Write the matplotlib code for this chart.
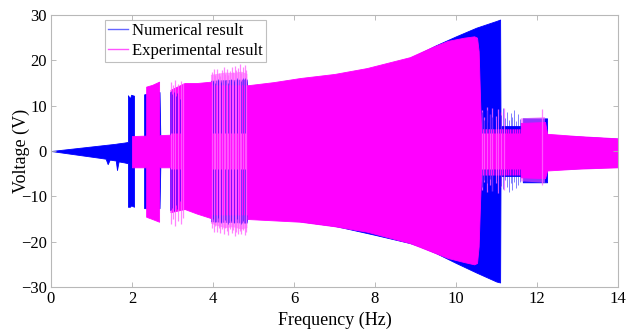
import numpy as np
import matplotlib
matplotlib.use('Agg')
import matplotlib.pyplot as plt
from matplotlib.lines import Line2D

# --- Envelope of the numerical response ---
num_f = [0, 0.4, 0.8, 1.2, 1.35, 1.4, 1.45, 1.6, 1.63, 1.67, 1.8, 1.9,
         1.9, 1.95, 1.98, 2.05,
         2.05, 2.3,
         2.3, 2.5, 2.68,
         2.7, 2.94,
         2.94, 3.5, 3.95,
         3.95, 4.83,
         4.85, 6.0, 7.0, 8.0, 8.86, 9.1, 9.5, 10.0, 10.5, 11.0, 11.09,
         11.1, 11.65,
         11.65, 12.25,
         12.25, 13.0, 14.0]
num_up = [0, 0.4, 0.8, 1.2, 1.35, 1.4, 1.45, 1.6, 1.65, 1.7, 1.85, 2.0,
          12.3, 11.6, 12.4, 12.2,
          3.0, 3.0,
          12.5, 12.8, 13.0,
          3.2, 3.2,
          13.0, 13.0, 13.0,
          15.5, 15.8,
          14.0, 15.5, 16.5, 18.0, 20.5, 21.5, 23.3, 25.3, 27.2, 28.7, 29.0,
          5.5, 5.5,
          7.2, 7.2,
          3.5, 3.2, 2.7]
num_lo = [0, -0.5, -1.0, -1.5, -1.7, -2.9, -1.9, -2.1, -4.2, -2.3, -2.5, -2.7,
          -12.3, -12.3, -12.0, -12.3,
          -3.0, -3.0,
          -12.6, -12.6, -12.6,
          -3.3, -3.3,
          -13.0, -12.5, -14.0,
          -15.5, -15.8,
          -14.5, -15.3, -16.5, -18.5, -20.3, -21.0, -22.5, -24.7, -26.8, -28.8, -29.0,
          -5.5, -5.5,
          -6.9, -6.9,
          -4.0, -3.8, -3.4]

# --- Envelope of the experimental response ---
exp_f = [2.0, 2.35,
         2.35, 2.5, 2.67,
         2.67, 2.95,
         2.95, 3.3, 3.6, 3.95,
         3.95, 4.85,
         4.85, 5.5, 6.15, 7.0, 7.8, 8.86, 9.43, 9.8, 10.2, 10.45, 10.52, 10.56, 10.6,
         10.62, 11.6,
         11.6, 12.2,
         12.25, 13.0, 14.0]
exp_up = [3.3, 3.4,
          14.2, 14.6, 15.3,
          3.5, 3.6,
          13.5, 15.0, 15.0, 15.3,
          14.5, 14.5,
          14.5, 15.2, 16.1, 17.0, 18.3, 20.7, 23.0, 24.3, 25.0, 25.3, 25.0, 22.0, 10.0,
          4.8, 4.8,
          6.2, 6.4,
          3.8, 3.3, 2.8]
exp_lo = [-3.6, -3.6,
          -14.5, -15.0, -15.6,
          -3.6, -3.6,
          -13.5, -12.8, -13.8, -14.8,
          -14.0, -14.0,
          -15.0, -15.3, -15.6, -16.6, -17.8, -20.3, -22.3, -23.6, -24.5, -25.0, -24.7, -21.0, -10.0,
          -5.2, -5.2,
          -5.8, -6.0,
          -4.3, -3.9, -3.6]

# --- Pale, partly overlapping part of the experimental trace ---
halo_f = [3.95, 4.1, 4.3, 4.5, 4.7, 4.85, np.nan, 11.6, 12.2]
halo_up = [16.8, 17.0, 17.3, 17.2, 17.5, 17.0, np.nan, 7.2, 7.5]
halo_lo = [-16.0, -16.5, -17.0, -16.8, -17.3, -17.0, np.nan, -6.7, -7.0]

# --- Individual spikes poking out of the envelopes ---
num_spk_f = [2.96, 3.0, 3.04, 3.08, 3.12, 3.18,
             4.0, 4.05, 4.12, 4.2, 4.3, 4.38, 4.45, 4.52, 4.6, 4.68, 4.75, 4.8,
             10.64, 10.68, 10.72, 10.76, 10.8, 10.84, 10.88, 10.93, 10.97, 11.01, 11.06,
             11.12, 11.17, 11.21, 11.26, 11.3, 11.35, 11.39, 11.44, 11.48, 11.53, 11.58]
num_spk_top = [13.2, 12.5, 13.0, 12.2, 12.8, 11.5,
               15.5, 15.0, 15.8, 15.2, 15.6, 15.0, 15.9, 15.4, 16.0, 15.5, 16.1, 16.0,
               8.5, 6.8, 7.0, 9.0, 6.5, 8.8, 7.5, 9.2, 6.8, 8.4, 7.1,
               8.0, 9.5, 7.2, 8.6, 6.9, 8.3, 7.5, 9.0, 6.6, 8.1, 7.0]
num_spk_bot = [-13.0, -12.6, -13.2, -12.0, -12.8, -11.0,
               -15.0, -15.6, -14.8, -15.8, -15.2, -16.0, -15.4, -15.9, -15.1, -16.0, -15.5, -15.8,
               -8.0, -6.5, -9.3, -7.0, -8.5, -6.2, -9.0, -7.5, -8.8, -6.6, -9.2,
               -7.8, -8.4, -6.5, -7.9, -9.0, -7.1, -8.6, -6.8, -8.2, -7.4, -6.9]

exp_spk_f = [2.97, 3.02, 3.07, 3.13, 3.2, 3.27,
             3.98, 4.02, 4.06, 4.1, 4.14, 4.18, 4.22, 4.26, 4.3, 4.34, 4.38, 4.42,
             4.46, 4.5, 4.54, 4.58, 4.62, 4.66, 4.7, 4.74, 4.78, 4.82,
             10.64, 10.7, 10.76, 10.83, 10.9, 10.98, 11.05, 11.12, 11.18, 12.12]
exp_spk_top = [15.3, 14.5, 15.6, 14.8, 15.5, 15.0,
               17.5, 18.2, 16.8, 18.0, 17.2, 16.5, 17.8, 18.6, 17.0, 18.2, 16.8, 17.6,
               18.5, 17.4, 18.8, 17.9, 18.3, 19.2, 17.2, 18.6, 19.0, 17.8,
               9.0, 7.5, 9.6, 8.2, 9.4, 7.8, 9.2, 8.5, 9.5, 9.3]
exp_spk_bot = [-16.2, -15.0, -16.5, -15.5, -16.0, -14.8,
               -17.0, -17.8, -16.5, -17.8, -16.9, -18.0, -17.2, -18.3, -17.0, -17.6, -18.5, -17.1,
               -18.0, -17.5, -18.8, -17.9, -18.4, -17.6, -18.2, -17.4, -18.6, -17.9,
               -8.5, -6.8, -9.0, -7.5, -8.8, -7.0, -9.2, -8.0, -8.7, -7.5]

plt.rcParams['font.family'] = ['Liberation Serif', 'DejaVu Serif']

BLUE = '#0000ff'
MAGENTA = '#ff00ff'

fig = plt.figure(figsize=(6.27, 3.32), dpi=100)
ax = fig.add_axes([0.0813, 0.1355, 0.9043, 0.8193])

# numerical result (drawn first, under the experimental trace)
ax.fill_between(num_f, num_lo, num_up, color=BLUE, linewidth=0.6, edgecolor=BLUE)

# pale translucent part of the experimental trace
ax.fill_between(halo_f, halo_lo, halo_up, color='#ff55ff', linewidth=0, alpha=0.6)
ax.vlines(exp_spk_f, exp_spk_bot, exp_spk_top, color='#ff66ff', linewidth=0.9, alpha=0.8)

# experimental result, solid core
ax.fill_between(exp_f, exp_lo, exp_up, color=MAGENTA, linewidth=0.6, edgecolor=MAGENTA)

# blue spikes seen through the magenta band
ax.vlines(num_spk_f, 4.0, num_spk_top, color=BLUE, linewidth=0.7, alpha=0.5)
ax.vlines(num_spk_f, num_spk_bot, -4.0, color=BLUE, linewidth=0.7, alpha=0.5)

ax.set_xlim(0, 14)
ax.set_ylim(-30, 30)
ax.set_xticks(np.arange(0, 15, 2))
ax.set_yticks(np.arange(-30, 31, 10))
ax.tick_params(direction='in', top=True, right=True, length=3.5, width=0.6,
               color='#b0b0b0', labelsize=12, pad=3)
for sp in ax.spines.values():
    sp.set_color('#b8b8b8')
    sp.set_linewidth(0.8)

ax.set_xlabel('Frequency (Hz)', fontsize=13, labelpad=3)
ax.set_ylabel('Voltage (V)', fontsize=13)
ax.yaxis.set_label_coords(-0.037, 0.5)

handles = [Line2D([], [], color='#6666ff', linewidth=1.0),
           Line2D([], [], color='#ff55ff', linewidth=1.0)]
leg = ax.legend(handles, ['Numerical result', 'Experimental result'],
                loc='upper left', bbox_to_anchor=(0.095, 0.982), fontsize=12,
                frameon=True, fancybox=False, handlelength=1.2, handletextpad=0.2,
                borderpad=0.2, labelspacing=0.22, borderaxespad=0)
leg.get_frame().set_edgecolor('#b0b0b0')
leg.get_frame().set_linewidth(0.8)

fig.savefig('out.png', dpi=100)
